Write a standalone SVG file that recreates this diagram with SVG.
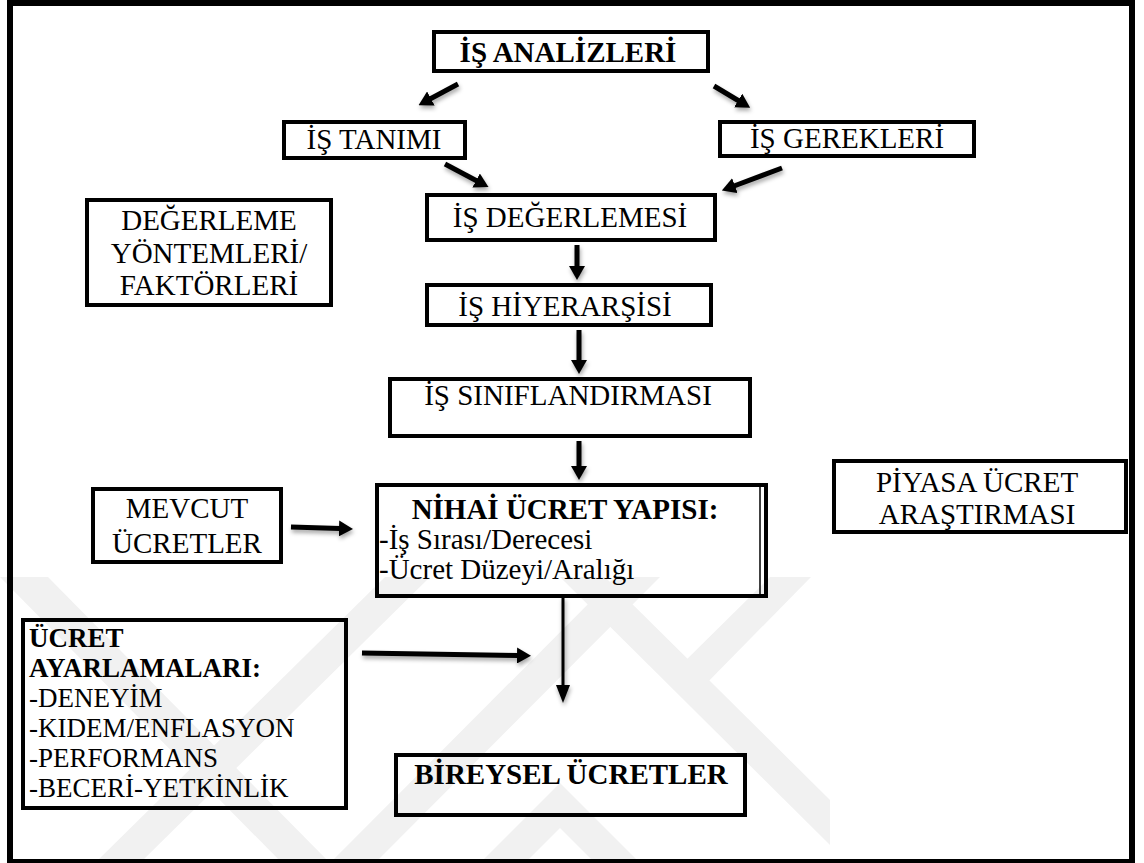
<svg xmlns="http://www.w3.org/2000/svg" width="1144" height="863" viewBox="0 0 1144 863">
  <defs>
    <style>
      .box { fill: none; stroke: #000; stroke-width: 4; }
      .t { font-family: "Liberation Serif", "Times New Roman", serif; font-size: 29px; fill: #000; }
      .c { text-anchor: middle; }
      .b { font-weight: bold; }
      .small { font-size: 27px; }
      .shaft { stroke: #000; stroke-width: 5; fill: none; }
      .wm { fill: #f1f1f1; }
    </style>
    <marker id="head" markerUnits="userSpaceOnUse" markerWidth="14" markerHeight="16" refX="1" refY="8" orient="auto">
      <path d="M0,0 L14,8 L0,16 Z" fill="#000"/>
    </marker>
    <marker id="headThin" markerUnits="userSpaceOnUse" markerWidth="18" markerHeight="14" refX="1" refY="7" orient="auto">
      <path d="M0,0 L18,7 L0,14 Z" fill="#000"/>
    </marker>
    <filter id="shadow" x="-30%" y="-30%" width="160%" height="180%">
      <feDropShadow dx="1" dy="3" stdDeviation="2" flood-color="#000" flood-opacity="0.35"/>
    </filter>
  </defs>

  <rect width="1144" height="863" fill="#fff"/>

  <!-- faint background emblem -->
  <g id="watermark">
    <polygon class="wm" points="0,577 48,577 330,863 282,863"/>
    <polygon class="wm" points="95,863 140,863 430,577 385,577"/>
    <polygon class="wm" points="330,863 375,863 660,577 615,577"/>
    <polygon class="wm" points="560,577 605,577 830,800 830,845"/>
    <polygon class="wm" points="480,863 525,863 560,828 595,863 640,863 560,783"/>
    <polygon class="wm" points="770,577 811,577 700,690 678,668"/>
  </g>

  <!-- outer frame -->
  <rect x="10" y="3" width="1122" height="859" fill="none" stroke="#000" stroke-width="6"/>

  <g id="n-analiz">
    <rect class="box" x="434" y="32" width="274" height="39"/>
    <text class="t b c" x="568" y="62">İŞ ANALİZLERİ</text>
  </g>
  <g id="n-tanim">
    <rect class="box" x="284" y="122" width="181" height="36"/>
    <text class="t c" x="374" y="149">İŞ TANIMI</text>
  </g>
  <g id="n-gerek">
    <rect class="box" x="720" y="122" width="254" height="34"/>
    <text class="t c" x="847" y="148">İŞ GEREKLERİ</text>
  </g>
  <g id="n-yontem">
    <rect class="box" x="87" y="200" width="244" height="105"/>
    <text class="t c" x="209" y="230">DEĞERLEME</text>
    <text class="t c" x="209" y="263">YÖNTEMLERİ/</text>
    <text class="t c" x="209" y="295">FAKTÖRLERİ</text>
  </g>
  <g id="n-degerleme">
    <rect class="box" x="427" y="195" width="288" height="45"/>
    <text class="t c" x="570" y="227">İŞ DEĞERLEMESİ</text>
  </g>
  <g id="n-hiyerarsi">
    <rect class="box" x="427" y="285" width="284" height="40"/>
    <text class="t c" x="565" y="316">İŞ HİYERARŞİSİ</text>
  </g>
  <g id="n-sinif">
    <rect class="box" x="390" y="379" width="360" height="57"/>
    <text class="t c" x="568" y="405">İŞ SINIFLANDIRMASI</text>
  </g>
  <g id="n-mevcut">
    <rect class="box" x="93" y="489" width="188" height="73"/>
    <text class="t c" x="187" y="518">MEVCUT</text>
    <text class="t c" x="187" y="553">ÜCRETLER</text>
  </g>
  <g id="n-nihai">
    <rect class="box" x="377" y="485" width="389" height="111"/>
    <line x1="760" y1="487" x2="760" y2="594" stroke="#000" stroke-width="1.5"/>
    <text class="t b c" x="565" y="519">NİHAİ ÜCRET YAPISI:</text>
    <text class="t" x="379" y="549">-İş Sırası/Derecesi</text>
    <text class="t" x="379" y="579">-Ücret Düzeyi/Aralığı</text>
  </g>
  <g id="n-piyasa">
    <rect class="box" x="834" y="461" width="292" height="71"/>
    <text class="t c" x="977" y="492">PİYASA ÜCRET</text>
    <text class="t c" x="977" y="524">ARAŞTIRMASI</text>
  </g>
  <g id="n-ayar">
    <rect class="box" x="23" y="620" width="323" height="188"/>
    <text class="t small b" x="29" y="647">ÜCRET</text>
    <text class="t small b" x="29" y="677">AYARLAMALARI:</text>
    <text class="t small" x="29" y="707">-DENEYİM</text>
    <text class="t small" x="29" y="737">-KIDEM/ENFLASYON</text>
    <text class="t small" x="29" y="767">-PERFORMANS</text>
    <text class="t small" x="29" y="797">-BECERİ-YETKİNLİK</text>
  </g>
  <g id="n-bireysel">
    <rect class="box" x="396" y="755" width="349" height="60"/>
    <text class="t b c" x="571" y="784">BİREYSEL ÜCRETLER</text>
  </g>

  <g id="connectors" filter="url(#shadow)">
    <line class="shaft" x1="458" y1="84" x2="430" y2="99" marker-end="url(#head)"/>
    <line class="shaft" x1="714" y1="86" x2="739" y2="101" marker-end="url(#head)"/>
    <line class="shaft" x1="445" y1="164" x2="477" y2="181" marker-end="url(#head)"/>
    <line class="shaft" x1="782" y1="168" x2="734" y2="186" marker-end="url(#head)"/>
    <line class="shaft" x1="577" y1="245" x2="577" y2="267" marker-end="url(#head)"/>
    <line class="shaft" x1="579" y1="330" x2="579" y2="361" marker-end="url(#head)"/>
    <line class="shaft" x1="579" y1="441" x2="579" y2="467" marker-end="url(#head)"/>
    <line class="shaft" x1="291" y1="527" x2="340" y2="528.5" marker-end="url(#head)"/>
    <line class="shaft" x1="362" y1="653" x2="518" y2="655.5" marker-end="url(#head)"/>
    <line x1="563" y1="597" x2="563" y2="686" stroke="#000" stroke-width="3" marker-end="url(#headThin)"/>
  </g>
</svg>
